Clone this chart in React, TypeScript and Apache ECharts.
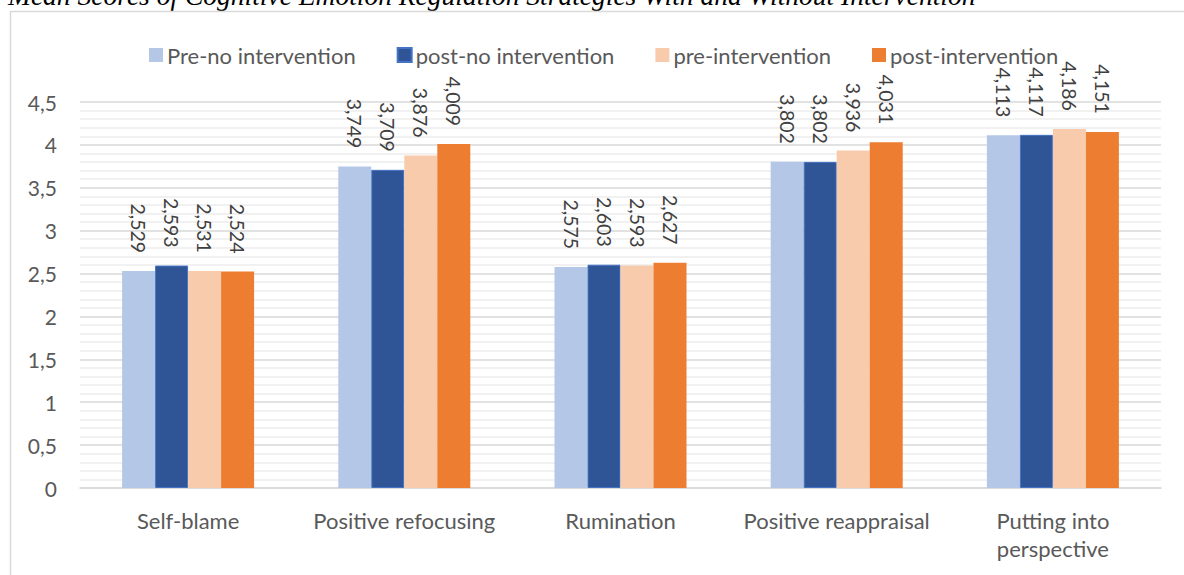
import React, { useEffect, useRef } from "react";
import * as echarts from "echarts";

const categories = [
  "Self-blame",
  "Positive refocusing",
  "Rumination",
  "Positive reappraisal",
  "Putting into\nperspective",
];
const seriesNames = [
  "Pre-no intervention",
  "post-no intervention",
  "pre-intervention",
  "post-intervention",
];
const preNoIntervention = [2.529, 3.749, 2.575, 3.802, 4.113];
const postNoIntervention = [2.593, 3.709, 2.603, 3.802, 4.117];
const preIntervention = [2.531, 3.876, 2.593, 3.936, 4.186];
const postIntervention = [2.524, 4.009, 2.627, 4.031, 4.151];
const seriesColors = ["#B4C7E7", "#2F5597", "#F8CBAD", "#ED7D31"];
const seriesBorders = ["#B4C7E7", "#4472C4", "#F8CBAD", "#ED7D31"];

const titleText =
  "Mean Scores of Cognitive Emotion Regulation Strategies With and Without Intervention";

const FONT = "Lato";
const comma = (v: number, digits?: number) =>
  (digits === undefined ? String(v) : v.toFixed(digits)).replace(".", ",");

export default function App() {
  const ref = useRef<HTMLDivElement>(null);

  useEffect(() => {
    document.body.style.margin = "0";
    if (!ref.current) return;
    const chart = echarts.init(ref.current, null, { renderer: "svg" });
    const values = [preNoIntervention, postNoIntervention, preIntervention, postIntervention];

    chart.setOption({
      animation: false,
      backgroundColor: "#ffffff",
      graphic: [
        {
          type: "text",
          x: 8,
          y: -5,
          style: {
            text: titleText,
            font: "italic 27.5px 'Liberation Serif'",
            fill: "#000000",
            verticalAlign: "middle",
          },
        },
        {
          type: "rect",
          shape: { x: 10.5, y: 11.5, width: 1400, height: 800 },
          style: { fill: "none", stroke: "#d9d9d9", lineWidth: 1.5 },
        },
      ],
      legend: {
        top: 39,
        left: 144,
        itemWidth: 14,
        itemHeight: 14,
        itemGap: 41,
        icon: "rect",
        textStyle: { fontFamily: FONT, fontSize: 22, color: "#595959", padding: [0, 0, 0, -1] },
        data: seriesNames,
      },
      grid: { left: 80, right: 23, top: 102, bottom: 87 },
      xAxis: {
        type: "category",
        data: categories,
        axisLine: { lineStyle: { color: "#d9d9d9", width: 1.5 } },
        axisTick: { show: false },
        axisLabel: {
          interval: 0,
          fontFamily: FONT,
          fontSize: 22,
          color: "#595959",
          margin: 18,
          lineHeight: 28,
          verticalAlign: "top",
        },
      },
      yAxis: {
        type: "value",
        min: 0,
        max: 4.5,
        interval: 0.5,
        axisLine: { show: false },
        axisTick: { show: false },
        axisLabel: {
          fontFamily: FONT,
          fontSize: 21,
          color: "#595959",
          margin: 23,
          formatter: (v: number) => comma(v),
        },
        splitLine: { lineStyle: { color: "#d9d9d9", width: 1.5 } },
        minorTick: { show: false, splitNumber: 5 },
        minorSplitLine: { show: true, lineStyle: { color: "#ededed", width: 1.5 } },
      },
      series: seriesNames.map((name, i) => ({
        name,
        type: "bar",
        data: values[i],
        barWidth: 33,
        barGap: "0%",
        itemStyle: {
          color: seriesColors[i],
          borderColor: seriesBorders[i],
          borderWidth: i === 1 ? 1 : 0,
        },
        label: {
          show: true,
          position: "top",
          distance: 18,
          rotate: -90,
          align: "right",
          verticalAlign: "middle",
          fontFamily: FONT,
          fontSize: 19.5,
          color: "#404040",
          formatter: (p: any) => comma(p.value, 3),
        },
      })),
    });

    return () => chart.dispose();
  }, []);

  return <div ref={ref} style={{ width: 1184, height: 575 }} />;
}
